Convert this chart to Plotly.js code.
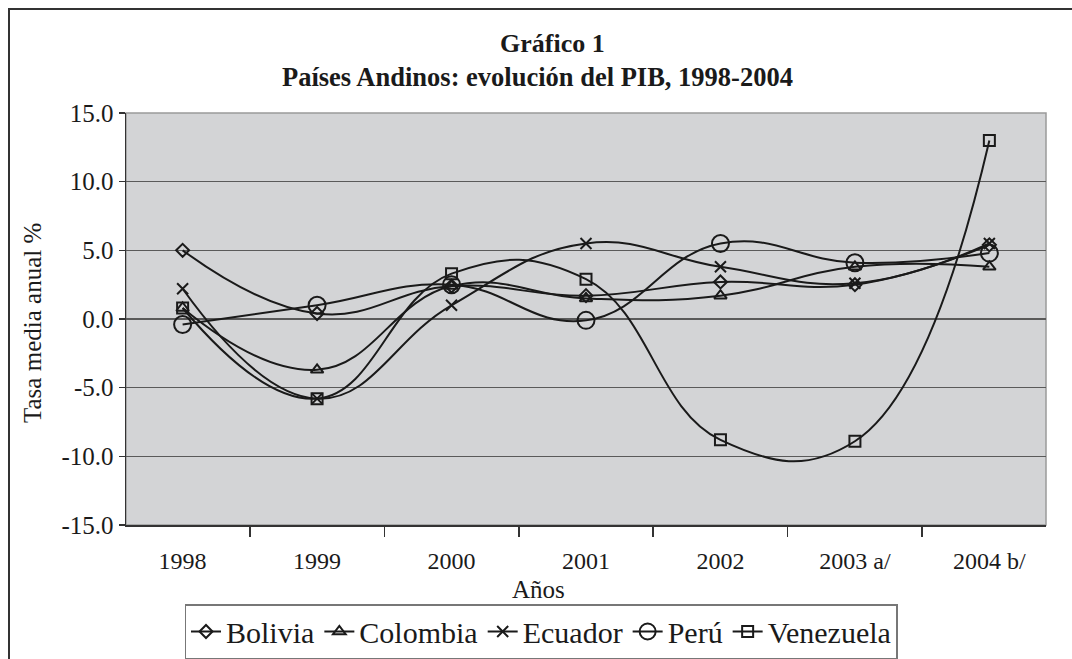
<!DOCTYPE html>
<html>
<head>
<meta charset="utf-8">
<script src="https://cdn.plot.ly/plotly-3.0.1.min.js"></script>
<style>
  html, body { margin: 0; padding: 0; background: #fff; overflow: hidden; }
  #frame { position: absolute; left: 8px; top: 8px; width: 1200px; height: 800px; border-left: 2px solid #333; border-top: 2px solid #333; pointer-events: none; z-index: 5; }
  #chart { position: absolute; left: 0; top: 0; width: 1072px; height: 659px; }
</style>
</head>
<body>
<div id="chart"></div>
<div id="frame"></div>
<script>
const years = ['1998', '1999', '2000', '2001', '2002', '2003 a/', '2004 b/'];
const bolivia   = [5.0, 0.4, 2.4, 1.7, 2.7, 2.5, 5.4];
const colombia  = [0.8, -3.7, 2.4, 1.5, 1.7, 3.8, 3.8];
const ecuador   = [2.2, -5.8, 1.0, 5.5, 3.8, 2.6, 5.5];
const peru      = [-0.4, 1.0, 2.5, -0.1, 5.5, 4.1, 4.8];
const venezuela = [0.8, -5.8, 3.3, 2.9, -8.8, -8.9, 13.0];

const yTickVals = [-15, -10, -5, 0, 5, 10, 15];
const yTickText = ['-15.0', '-10.0', '-5.0', '0.0', '5.0', '10.0', '15.0'];

const seriesNames = ['Bolivia', 'Colombia', 'Ecuador', 'Perú', 'Venezuela'];
const seriesData = [bolivia, colombia, ecuador, peru, venezuela];
const symbols = ['diamond-open', 'triangle-up-open', 'x-thin-open', 'circle-open', 'square-open'];
const sizes = [10, 11, 11, 17, 11];

const traces = seriesData.map((vals, i) => ({
  type: 'scatter',
  mode: 'lines+markers',
  name: seriesNames[i],
  x: years,
  y: vals,
  line: { color: '#1a1a1a', width: 2, shape: 'spline', smoothing: 1.25 },
  marker: { symbol: symbols[i], size: sizes[i], color: '#1a1a1a', line: { width: 2, color: '#1a1a1a' } },
  cliponaxis: false
}));

const serif = 'Liberation Serif, Times New Roman, serif';
const ink = '#1a1a1a';

const layout = {
  width: 1072,
  height: 659,
  margin: { l: 126, r: 26, t: 113, b: 134, autoexpand: false },
  paper_bgcolor: 'rgba(0,0,0,0)',
  plot_bgcolor: '#d3d4d6',
  font: { family: serif, color: ink, size: 19 },
  xaxis: {
    type: 'category',
    tickson: 'boundaries',
    ticks: 'outside', ticklen: 10, tickwidth: 1.5, tickcolor: '#333',
    ticklabelstandoff: 14,
    showline: true, linecolor: '#333', linewidth: 1.5,
    showgrid: false,
    automargin: false,
    tickfont: { family: serif, size: 24, color: ink },
    fixedrange: true
  },
  yaxis: {
    range: [-15, 15],
    tickmode: 'array',
    tickvals: yTickVals,
    ticktext: yTickText,
    ticks: 'outside', ticklen: 6, tickwidth: 1.5, tickcolor: '#333',
    showline: true, linecolor: '#333', linewidth: 1.5,
    showgrid: true, gridcolor: '#5a5a5a', gridwidth: 1.5,
    zeroline: false,
    automargin: false,
    tickfont: { family: serif, size: 25, color: ink },
    fixedrange: true
  },
  annotations: [
    { text: '<b>Gráfico 1</b>', xref: 'paper', yref: 'paper', x: (552 - 126) / 920, y: (525 - 43) / 412,
      xanchor: 'center', yanchor: 'middle', showarrow: false, font: { family: serif, size: 26, color: ink } },
    { text: '<b>Países Andinos: evolución del PIB, 1998-2004</b>', xref: 'paper', yref: 'paper', x: (537 - 126) / 920, y: (525 - 77) / 412,
      xanchor: 'center', yanchor: 'middle', showarrow: false, font: { family: serif, size: 26.5, color: ink } },
    { text: 'Años', xref: 'paper', yref: 'paper', x: (538 - 126) / 920, y: (525 - 589) / 412,
      xanchor: 'center', yanchor: 'middle', showarrow: false, font: { family: serif, size: 25, color: ink } },
    { text: 'Tasa media anual %', xref: 'paper', yref: 'paper', x: (32 - 126) / 920, y: (525 - 323) / 412,
      xanchor: 'center', yanchor: 'middle', textangle: -90, showarrow: false, font: { family: serif, size: 25, color: ink } }
  ],
  shapes: [{
    type: 'rect', xref: 'paper', yref: 'paper', x0: 0, x1: 1, y0: 0, y1: 1,
    line: { color: '#9a9a9a', width: 1.5 }, layer: 'below'
  }],
  showlegend: true,
  legend: {
    orientation: 'h',
    x: (541 - 126) / 920, xanchor: 'center', xref: 'paper',
    y: (525 - 604) / 412, yanchor: 'top',
    bgcolor: '#ffffff',
    bordercolor: '#777',
    borderwidth: 1.5,
    font: { family: serif, size: 30, color: ink },
    itemwidth: 30,
    tracegroupgap: 0
  }
};

Plotly.newPlot('chart', traces, layout, { displayModeBar: false, staticPlot: true });
</script>
</body>
</html>
